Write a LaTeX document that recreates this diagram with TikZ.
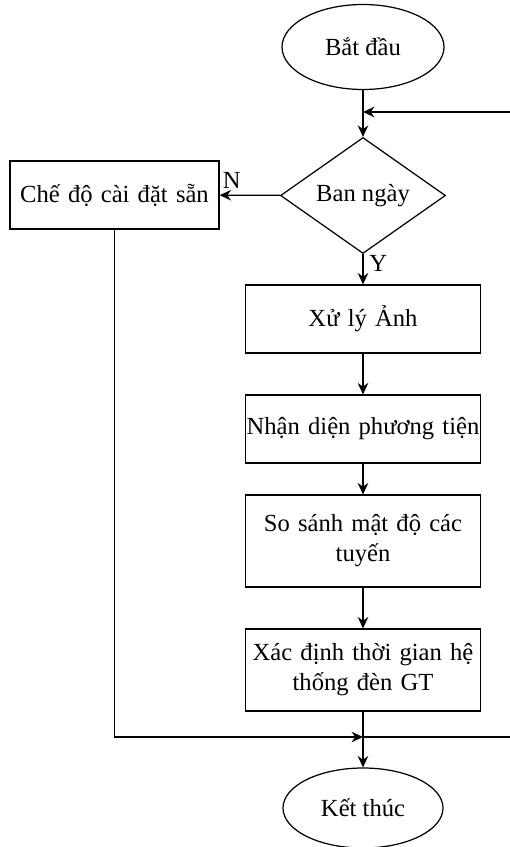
\documentclass[tikz,border=0pt]{standalone}
\usepackage{fontspec}
\setmainfont{Liberation Serif}
\usetikzlibrary{shapes.geometric,arrows.meta}

\begin{document}
\begin{tikzpicture}[x=1cm,y=1cm,
  font=\fontsize{14}{17}\selectfont,
  line width=0.7pt,
  >={Stealth[length=6.5pt,width=6pt]},
  term/.style={draw, ellipse, minimum width=3.24cm, minimum height=1.7cm, inner sep=0pt},
  decision/.style={draw, diamond, minimum width=3.3cm, minimum height=2.18cm, inner sep=0pt},
  box/.style={draw, minimum width=4.7cm, minimum height=1.36cm, text width=4.7cm, align=center, inner sep=0pt}]
\useasboundingbox (0,0) rectangle (10.2,-16.94);

\node[term] (start) at (7.26,-0.94) {Bắt đầu};
\node[decision] (day) at (7.26,-3.91) {Ban ngày};
\node[box, minimum width=4.18cm, text width=4.18cm] (preset) at (2.29,-3.9) {Chế độ cài đặt sẵn};

\node[box] (img) at (7.26,-6.38) {Xử lý Ảnh};
\node[box] (detect) at (7.26,-8.58) {Nhận diện phương tiện};
\node[box, minimum height=1.84cm] (compare) at (7.26,-10.82) {So sánh mật độ các\\tuyến};
\node[box, minimum height=1.64cm] (timing) at (7.26,-13.4) {Xác định thời gian hệ\\thống đèn GT};
\node[term, minimum width=3.2cm, minimum height=1.6cm] (stop) at (7.26,-16.16) {Kết thúc};

\coordinate (loop) at (7.26,-2.24);
\coordinate (merge) at (7.26,-14.74);

\draw[->] (start) -- (day);
\draw[->] (day) -- node[above, pos=0.8] {N} (preset);
\draw[->] (day) -- node[right, pos=0.3] {Y} (img);
\draw[->] (img) -- (detect);
\draw[->] (detect) -- (compare);
\draw[->] (compare) -- (timing);
\draw[->] (timing) -- (stop);
\draw[->] (preset) |- (merge);
\draw[->] (merge) -- ++(3.2,0) |- (loop);
\end{tikzpicture}
\end{document}
